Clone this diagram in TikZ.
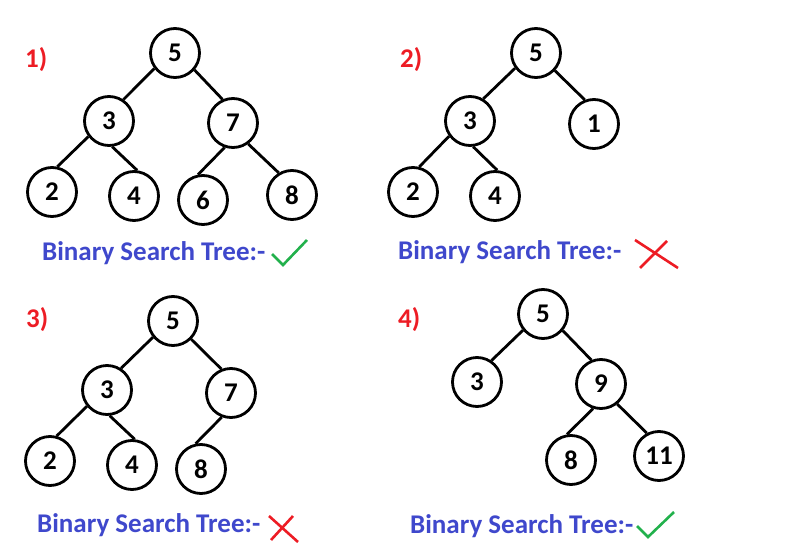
\documentclass[tikz,border=0pt]{standalone}
\usepackage{fontspec}
\setmainfont{Carlito}
\usepackage{xcolor}
\usetikzlibrary{positioning}
\definecolor{numred}{RGB}{237,28,36}
\definecolor{capblue}{RGB}{63,72,204}
\definecolor{okgreen}{RGB}{34,177,76}

\begin{document}
\begin{tikzpicture}[
    x=1pt, y=-1pt,
    vertex/.style={draw, circle, line width=2.8pt, minimum size=49pt, inner sep=0pt,
                   font=\fontsize{27}{27}\selectfont\bfseries},
    edge/.style={line width=2.8pt},
    lbl/.style={font=\fontsize{27}{27}\selectfont\bfseries, text=numred, anchor=base west},
    caption/.style={font=\fontsize{27}{27}\selectfont\bfseries, text=capblue,
                    anchor=base west, inner sep=0pt},
    okmark/.style={okgreen, line width=2.6pt},
    nomark/.style={numred, line width=2.6pt}
  ]
  \useasboundingbox (0,0) rectangle (798,554);
  % Tree 1
  \node[lbl, inner sep=0pt] (n1) at (25,67) {1)};
  \node[vertex] (a5) at (175,53) {5};
  \node[vertex] (a3) at (109,121) {3};
  \node[vertex] (a7) at (233,123) {7};
  \node[vertex] (a2) at (52,192) {2};
  \node[vertex] (a4) at (134,196) {4};
  \node[vertex] (a6) at (203,200) {6};
  \node[vertex] (a8) at (292,195) {8};
  \draw[edge] (a5.-143) -- (a3.56);
  \draw[edge] (a5.-41) -- (a7.114);
  \draw[edge] (a3.-143) -- (a2.78);
  \draw[edge] (a3.-83) -- (a4.83);
  \draw[edge] (a7.-109) -- (a6.101);
  \draw[edge] (a7.-54) -- (a8.121);
  \node[caption] (c1) at (42,260) {Binary Search Tree:-};
  \draw[okmark] (272,254) -- (283,265) -- (307,240);
  % Tree 2
  \node[lbl, inner sep=0pt] (n2) at (400,67) {2)};
  \node[vertex] (b5) at (536,53) {5};
  \node[vertex] (b3) at (470,121) {3};
  \node[vertex] (b1) at (594,124) {1};
  \node[vertex] (b2) at (413,192) {2};
  \node[vertex] (b4) at (495,196) {4};
  \draw[edge] (b5.-144) -- (b3.59);
  \draw[edge] (b5.-43) -- (b1.111);
  \draw[edge] (b3.-144) -- (b2.76);
  \draw[edge] (b3.-83) -- (b4.85);
  \node[caption] (c2) at (398,259) {Binary Search Tree:-};
  \draw[nomark] (635,240) -- (678,268);
  \draw[nomark] (667,241) -- (640,268);
  % Tree 3
  \node[lbl, inner sep=0pt] (n3) at (26,327) {3)};
  \node[vertex] (d5) at (173,321) {5};
  \node[vertex] (d3) at (107,390) {3};
  \node[vertex] (d7) at (231,393) {7};
  \node[vertex] (d2) at (50,461) {2};
  \node[vertex] (d4) at (132,465) {4};
  \node[vertex] (d8) at (201,469) {8};
  \draw[edge] (d5.-141) -- (d3.57);
  \draw[edge] (d5.-45) -- (d7.112);
  \draw[edge] (d3.-141) -- (d2.75);
  \draw[edge] (d3.-84) -- (d4.84);
  \draw[edge] (d7.-111) -- (d8.102);
  \node[caption] (c3) at (37,532) {Binary Search Tree:-};
  \draw[nomark] (269,516) -- (298,542);
  \draw[nomark] (293,516) -- (271,540);
  % Tree 4
  \node[lbl, inner sep=0pt] (n4) at (398,327) {4)};
  \node[vertex] (e5) at (543,314) {5};
  \node[vertex] (e3) at (477,382) {3};
  \node[vertex] (e9) at (601,384) {9};
  \node[vertex] (e8) at (571,460) {8};
  \node[vertex] (e11) at (659,456) {11};
  \draw[edge] (e5.-141) -- (e3.56);
  \draw[edge] (e5.-40) -- (e9.112);
  \draw[edge] (e9.-108) -- (e8.99);
  \draw[edge] (e9.-51) -- (e11.118);
  \node[caption] (c4) at (410,533) {Binary Search Tree:-};
  \draw[okmark] (637,526) -- (648,537) -- (674,512);
\end{tikzpicture}
\end{document}
